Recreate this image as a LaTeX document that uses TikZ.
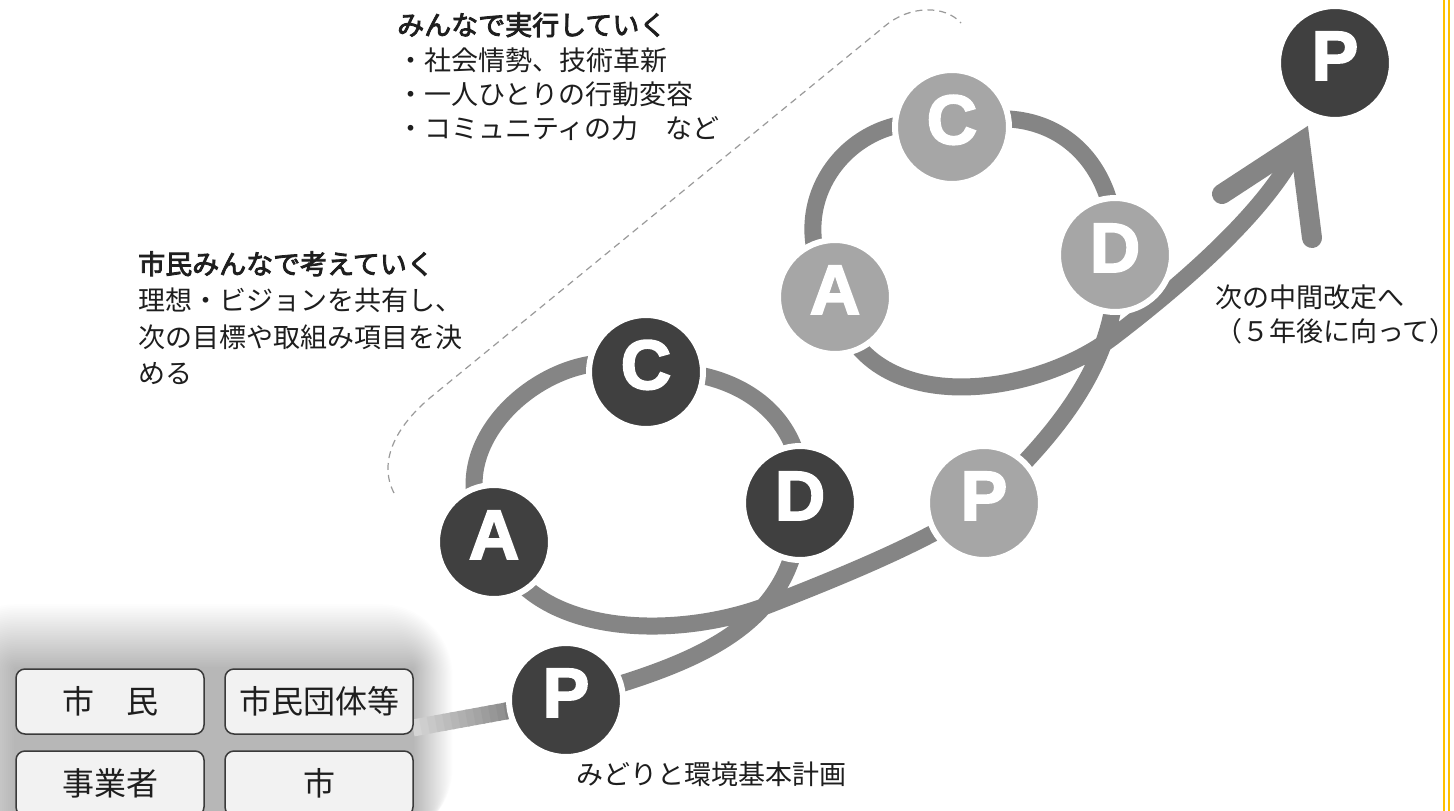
\documentclass[tikz,border=0pt]{standalone}
\usepackage{fontspec}
\usetikzlibrary{calc}
\newfontfamily\jp{Noto Sans CJK JP}
\newfontfamily\jpb{Noto Sans CJK JP}[FakeBold=3]
\newfontfamily\letterfont{Liberation Sans Bold}[FakeBold=2.5]
\definecolor{darkc}{HTML}{404040}
\definecolor{lightc}{HTML}{A6A6A6}
\definecolor{flowc}{HTML}{858585}
\definecolor{boxfill}{HTML}{F2F2F2}
\definecolor{boxline}{HTML}{3A3A3A}
\definecolor{textc}{HTML}{1E1E1E}
\definecolor{dashc}{HTML}{9A9A9A}
\definecolor{yelc}{HTML}{FFC000}
\pgfdeclarelayer{glowlayer}
\pgfdeclarelayer{linelayer}
\pgfsetlayers{glowlayer,linelayer,main}
\tikzset{
  pdca/.style={circle, minimum size=114pt, inner sep=0pt, draw=white, line width=6pt,
    font={\letterfont\fontsize{70pt}{70pt}\selectfont}, text=white, text height=50pt, text depth=16pt},
  darkcirc/.style={pdca, fill=darkc},
  lightcirc/.style={pdca, fill=lightc},
  flowline/.style={draw=flowc, line width=17pt, line join=round},
  arrowwing/.style={draw=flowc, line width=20pt, line cap=round, line join=miter},
  jtext/.style={font={\jp\fontsize{27pt}{27pt}\selectfont}, text=textc, inner sep=0pt, anchor=base west},
  jbold/.style={font={\jpb\fontsize{27pt}{27pt}\selectfont}, text=textc, inner sep=0pt, anchor=base west},
  actor/.style={rectangle, rounded corners=9pt, draw=boxline, fill=boxfill, line width=1.5pt,
    minimum width=188pt, minimum height=65pt, inner sep=0pt, text=textc,
    font={\jp\fontsize{32pt}{32pt}\selectfont}},
  dashline/.style={draw=dashc, line width=1.2pt, dash pattern=on 7pt off 5pt},
  yelline/.style={draw=yelc, line width=2pt}
}
\begin{document}
\begin{tikzpicture}[x=1pt,y=-1pt]
\useasboundingbox (0,0) rectangle (1454,811);

% actor boxes
\node[actor] (b1) at (110,701.5) {市　民};
\node[actor] (b2) at (319,701.5) {市民団体等};
\node[actor] (b3) at (110,783.5) {事業者};
\node[actor] (b4) at (319,783.5) {市};

% PDCA circles
\node[darkcirc] (p1) at (566,700) {P};
\node[darkcirc] (a1) at (494,542) {A};
\node[darkcirc] (c1) at (646,372) {C};
\node[darkcirc] (d1) at (800,503) {D};
\node[lightcirc] (p2) at (984,503) {P};
\node[lightcirc] (a2) at (835,297) {A};
\node[lightcirc] (c2) at (952,127) {C};
\node[lightcirc] (d2) at (1115,255) {D};
\node[darkcirc] (p3) at (1335,63) {P};

% helper coordinates
\coordinate (s) at (413,728);
\coordinate (x1) at (771,604);
\coordinate (x2) at (1113,337);
\coordinate (v) at (1300,143);
\coordinate (w1) at (1222,194);
\coordinate (w2) at (1312,238);

% background and soft glow behind the boxes
\begin{pgfonlayer}{glowlayer}
\fill[white] (0,0) rectangle (1454,811);
\foreach \d in {2,4,...,72} {
  \fill[black, opacity=0.006, rounded corners=\d pt] (16-\d,669-0.9*\d) rectangle (413+0.55*\d,840);
}
\end{pgfonlayer}

% flow lines
\begin{pgfonlayer}{linelayer}
\foreach \i in {0,...,11} {
  \pgfmathtruncatemacro{\pct}{35+5*\i}
  \draw[flowline, draw=flowc!\pct!white] ($(s)!{\i/20}!(p1.center)$) -- ($(s)!{(\i+1.3)/20}!(p1.center)$);
}
\draw[flowline] ($(s)!0.6!(p1.center)$) -- (p1.center);
\draw[flowline] (p1.center) .. controls (690,665) and (800,630) .. (d1.center)
  .. controls (810,420) and (740,365) .. (c1.center)
  .. controls (570,330) and (420,440) .. (a1.center)
  .. controls (530,640) and (680,640) .. (x1)
  .. controls (850,573) and (930,540) .. (p2.center)
  .. controls (1050,440) and (1125,360) .. (d2.center)
  .. controls (1120,160) and (1050,95) .. (c2.center)
  .. controls (860,100) and (770,200) .. (a2.center)
  .. controls (860,420) and (1030,400) .. (x2)
  .. controls (1190,278) and (1270,207) .. (v);
\draw[arrowwing] (w1) -- (v) -- (w2);
\end{pgfonlayer}

% dashed boundary
\draw[dashline] (394,493) .. controls (378,462) and (395,427) .. (431,397) -- (885,26)
  .. controls (910,5) and (945,5) .. (961,23);

% texts
\node[jbold] (t1) at (397,35) {みんなで実行していく};
\node[jtext] (t2) at (397,70) {・社会情勢、技術革新};
\node[jtext] (t3) at (397,104) {・一人ひとりの行動変容};
\node[jtext] (t4) at (397,138) {・コミュニティの力　など};

\node[jbold] (u1) at (138,274) {市民みんなで考えていく};
\node[jtext] (u2) at (138,310.5) {理想・ビジョンを共有し、};
\node[jtext] (u3) at (138,347) {次の目標や取組み項目を決};
\node[jtext] (u4) at (138,383.5) {める};

\node[jtext] (r1) at (1215,307) {次の中間改定へ};
\node[jtext] (r2) at (1215,341) {（５年後に向って）};

\node[jtext] (lb) at (576,784) {みどりと環境基本計画};

% yellow frame lines
\draw[yelline] (1444,0) -- (1444,811);
\draw[yelline] (1449,0) -- (1449,811);
\end{tikzpicture}
\end{document}
